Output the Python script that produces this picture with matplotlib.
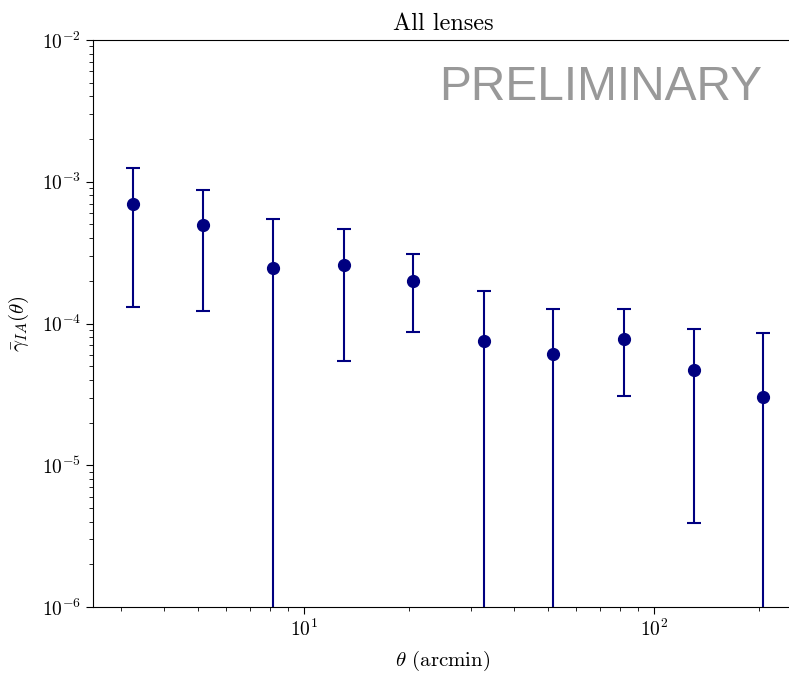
import numpy as np
import matplotlib
matplotlib.use("Agg")
import matplotlib.pyplot as plt

# angular bins (arcmin) and IA signal
theta = [3.25, 5.14, 8.15, 13.0, 20.5, 32.7, 51.4, 82.0, 130.0, 205.0]
gamma = [6.97e-4, 4.95e-4, 2.47e-4, 2.59e-4, 2.0e-4, 7.53e-5, 6.1e-5, 7.78e-5, 4.7e-5, 3.03e-5]
upper = [1.25e-3, 8.75e-4, 5.46e-4, 4.65e-4, 3.09e-4, 1.69e-4, 1.27e-4, 1.27e-4, 9.14e-5, 8.57e-5]
# None -> lower bound is negative, falls off the log axis
lower = [1.31e-4, 1.22e-4, None, 5.43e-5, 8.7e-5, None, None, 3.08e-5, 3.92e-6, None]


def main():
    plt.rcParams['font.family'] = 'cmr10'
    plt.rcParams['mathtext.fontset'] = 'cm'
    plt.rcParams['axes.formatter.use_mathtext'] = True

    y = np.array(gamma)
    hi = np.array(upper)
    lo = np.array([v if v is not None else 1e-12 for v in lower])
    yerr = [y - lo, hi - y]

    fig = plt.figure(figsize=(7.89, 6.73), dpi=100)
    ax = fig.add_axes([0.1179, 0.098, 0.8872, 0.8426])

    ax.errorbar(theta, y, yerr=yerr, fmt='o', color='#000080', ms=8.5,
                capsize=4.7, elinewidth=1.5, capthick=1.5)

    ax.set_xscale('log')
    ax.set_yscale('log')
    ax.set_xlim(2.5, 250)
    ax.set_ylim(1e-6, 1e-2)

    ax.set_title('All lenses', fontsize=17.5, pad=7)
    ax.set_xlabel(r'$\theta$ (arcmin)', fontsize=15, labelpad=6)
    ax.set_ylabel(r'$\bar{\gamma}_{IA}(\theta)$', fontsize=15, labelpad=8)

    ax.tick_params(which='major', length=5, labelsize=14)
    ax.tick_params(which='minor', length=3)
    ax.spines['right'].set_visible(False)

    ax.text(0.956, 0.894, 'PRELIMINARY', transform=ax.transAxes,
            ha='right', va='baseline', fontsize=34.5, color='#999999',
            family='Liberation Sans')

    fig.savefig('out.png', dpi=100)


if __name__ == '__main__':
    main()
